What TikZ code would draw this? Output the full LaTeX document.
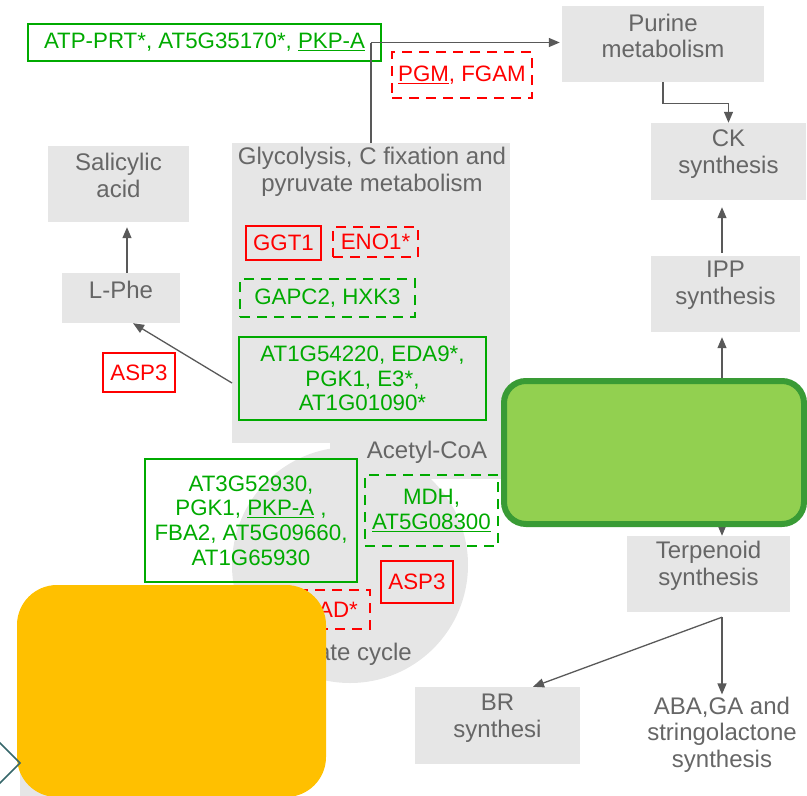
\documentclass[tikz,border=0pt]{standalone}
\usepackage{fontspec}
\setmainfont{Liberation Sans}
\usetikzlibrary{arrows.meta,calc}
\definecolor{gfill}{HTML}{E6E6E6}
\definecolor{gtext}{HTML}{666666}
\definecolor{arrc}{HTML}{595959}
\definecolor{grn}{RGB}{0,170,0}
\definecolor{rd}{RGB}{255,0,0}
\definecolor{lgreen}{HTML}{92D050}
\definecolor{dgreen}{RGB}{57,155,53}
\definecolor{orng}{HTML}{FFC000}
\definecolor{tealc}{RGB}{55,103,107}
\begin{document}
\begin{tikzpicture}[x=1pt,y=-1pt,
  gbg/.style={fill=gfill, inner sep=0pt, outer sep=0pt},
  graybox/.style={fill=gfill, inner sep=0pt},
  glabel/.style={text=gtext, font=\fontsize{24}{26.7}\selectfont, align=center, inner sep=0pt},
  gbox/.style={draw=grn, line width=1.8pt, text=grn, font=\fontsize{22.3}{24.6}\selectfont, align=center, inner sep=0pt},
  gdash/.style={gbox, dash pattern=on 10pt off 7pt},
  rbox/.style={draw=rd, line width=1.8pt, text=rd, font=\fontsize{22.3}{24.6}\selectfont, align=center, inner sep=0pt},
  rdash/.style={rbox, dash pattern=on 10pt off 7pt},
  arr/.style={draw=arrc, line width=1.3pt, -{Triangle[length=11pt,width=9pt]}},
  ln/.style={draw=arrc, line width=1.3pt}
]
\useasboundingbox (0,0) rectangle (807,796);
\coordinate (vx) at (722,0);
\coordinate (lx) at (127,0);

% gray backgrounds
\node[gbg, minimum width=278pt, minimum height=300pt] (glyco) at (371,293) {};
\node[gbg, minimum width=180pt, minimum height=36pt] (acbg) at (420,460.5) {};
\node[gbg, circle, minimum size=236pt] (tca) at (350,565) {};
\fill[gfill] (20,740) rectangle (120,796);

% gray boxes
\node[graybox, minimum width=202pt, minimum height=76pt] (purine) at (663,44) {};
\node[graybox, minimum width=155pt, minimum height=77pt] (ck) at (728.5,161.5) {};
\node[graybox, minimum width=149pt, minimum height=76pt] (ipp) at (725.5,294) {};
\node[graybox, minimum width=163pt, minimum height=76pt] (terp) at (708.5,574) {};
\node[graybox, minimum width=165pt, minimum height=77pt] (br) at (497.5,725.5) {};
\node[graybox, minimum width=141pt, minimum height=76pt] (salic) at (118.5,184) {};
\node[graybox, minimum width=118pt, minimum height=50pt] (lphe) at (121,298) {};

% gray texts
\node[glabel] (purinet) at ([yshift=8pt]purine.center) {Purine\\metabolism};
\node[glabel] (ckt) at ([yshift=7.5pt]ck.center) {CK\\synthesis};
\node[glabel] (ippt) at ([yshift=8.5pt]ipp.center) {IPP\\synthesis};
\node[glabel] (terpt) at ([yshift=8.5pt]terp.center) {Terpenoid\\synthesis};
\node[glabel] (brt) at ([yshift=7.5pt]br.center) {BR\\synthesi};
\node[glabel] (salict) at ([yshift=8.5pt]salic.center) {Salicylic\\acid};
\node[glabel] (lphet) at ([yshift=8pt]lphe.center) {L-Phe};
\node[glabel] (aba) at (722,734.5) {ABA,GA and\\stringolactone\\synthesis};
\node[glabel] (glytitle) at (372,172) {Glycolysis, C fixation and\\pyruvate metabolism};
\node[glabel] (acetyl) at (427,452) {Acetyl-CoA};
\node[glabel, anchor=east] (cycle) at (412,654) {ate cycle};

% gene boxes
\node[gbox, minimum width=353pt, minimum height=37pt] (atp) at (204.5,42.5) {ATP-PRT*, AT5G35170*, \underline{PKP-A}};
\node[rdash, minimum width=140pt, minimum height=46pt] (pgm) at (462,75) {\underline{PGM}, FGAM};
\node[rbox, minimum width=75pt, minimum height=34pt] (ggt) at (283.5,243) {GGT1};
\node[rdash, minimum width=85pt, minimum height=30pt] (eno) at (375.5,242) {ENO1*};
\node[gdash, minimum width=175pt, minimum height=38pt] (gapc) at (327.5,298) {GAPC2, HXK3};
\node[gbox, minimum width=247pt, minimum height=83pt] (at1g) at (362.5,378.5) {AT1G54220, EDA9*,\\PGK1, E3*,\\AT1G01090*};
\node[rbox, minimum width=72pt, minimum height=39pt] (aspa) at (139,372.5) {ASP3};
\node[gbox, minimum width=212pt, minimum height=123pt] (at3g) at (251,520.5) {AT3G52930,\\PGK1, \underline{PKP-A} ,\\FBA2, AT5G09660,\\AT1G65930};
\node[gdash, minimum width=133pt, minimum height=71pt] (mdh) at (431.5,510.5) {MDH,\\\underline{AT5G08300}};
\node[rbox, minimum width=72pt, minimum height=42pt] (aspb) at (417,582) {ASP3};
\node[rdash, minimum width=120pt, minimum height=39pt] (ad) at (310,609.5) {};
\node[text=rd, font=\fontsize{22.3}{24.6}\selectfont, inner sep=0pt, anchor=east] (adt) at (358,610) {AD*};

% connectors
\draw[ln] (glyco.north) -- (glyco.north |- atp.east);
\draw[arr] (glyco.north |- atp.east) -- ([xshift=-2pt]purine.west |- atp.east);
\draw[arr] (purine.south) -- ++(0,21) -| (ck.north);
\draw[arr] ([yshift=3pt]ipp.north -| vx) -- ([yshift=-7pt]ck.south -| vx);
\draw[arr] (vx |- 0,378) -- ([yshift=-5pt]ipp.south -| vx);
\draw[arr] (vx |- 0,527) -- (terp.north -| vx);
\draw[arr] ([yshift=-5pt]terp.south -| vx) -- ([yshift=2pt]aba.north -| vx);
\draw[arr] ([yshift=-5pt]terp.south -| vx) -- ([xshift=35.5pt]br.north);
\draw[arr] (lphe.north -| lx) -- ([yshift=-5pt]salic.south -| lx);
\draw[arr] (glyco.west |- 0,383) -- ([xshift=12pt]lphe.south);

% overlays
\node[draw=dgreen, fill=lgreen, line width=6pt, rounded corners=22pt, minimum width=300pt, minimum height=143pt, inner sep=0pt] (green) at (654,452.5) {};
\node[fill=orng, rounded corners=40pt, minimum width=309pt, minimum height=212pt, inner sep=0pt] (orange) at (171.5,691) {};
\draw[tealc, line width=1.5pt] (20,763) -- (-10,733) -- (-40,763) -- (-10,793) -- cycle;
\end{tikzpicture}
\end{document}
